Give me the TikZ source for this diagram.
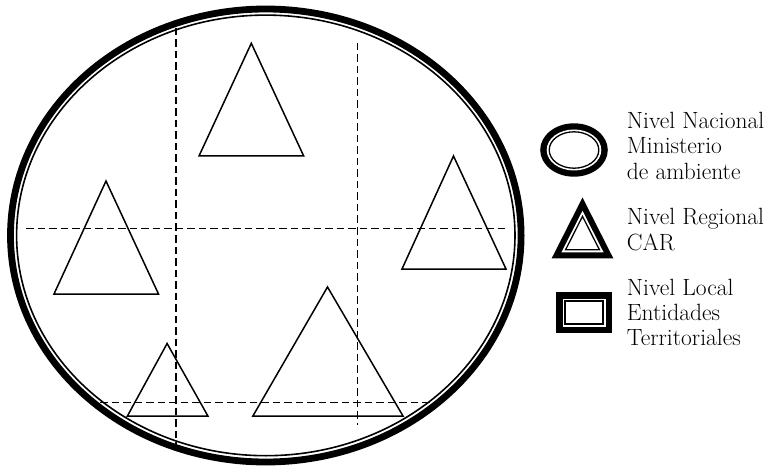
\documentclass[tikz,border=0pt]{standalone}
\begin{document}
\begin{tikzpicture}[x=1pt,y=-1pt,
  dline/.style={line width=1.6pt, dash pattern=on 7.5pt off 4pt},
  tri/.style={line width=1.5pt, line join=miter},
  lbl/.style={anchor=base west, inner sep=0pt, font=\fontsize{23.5}{25}\selectfont},
  thinline/.style={line width=1.3pt}]
\useasboundingbox (0,0) rectangle (769,468);
% big ellipse
\draw[line width=6.8pt] (265.8,235.5) ellipse [x radius=255.3pt, y radius=226.5pt];
\draw[line width=1.6pt] (265.8,235.4) ellipse [x radius=249.2pt, y radius=220.3pt];
% dashed grid
\coordinate (v1t) at (176,28);   \coordinate (v1b) at (176,447);
\coordinate (v2t) at (357.5,43); \coordinate (v2b) at (357.5,425);
\coordinate (h1l) at (26,228.5); \coordinate (h1r) at (505,228.5);
\coordinate (h2l) at (100,402.5);\coordinate (h2r) at (439,402.5);
\draw[dline] (v1t) -- (v1b);
\draw[dline] (v2t) -- (v2b);
\draw[dline] (h1l) -- (h1r);
\draw[dline] (h2l) -- (h2r);
% triangles
\draw[tri] (199,156) -- (303.7,156) -- (251.3,43.3) -- cycle;
\draw[tri] (54,294) -- (158.5,294) -- (106,181) -- cycle;
\draw[tri] (402,269) -- (506,269) -- (453.5,156) -- cycle;
\draw[tri] (127.4,416) -- (207.9,416) -- (167.1,343.5) -- cycle;
\draw[tri] (252.9,416) -- (403,416) -- (327.5,287) -- cycle;
% legend: ellipse
\fill (574,150) ellipse [x radius=33.8pt, y radius=26.7pt];
\fill[white] (574,150) ellipse [x radius=27.3pt, y radius=20.5pt];
\draw[thinline] (574,150) ellipse [x radius=24.8pt, y radius=18.2pt];
% legend: triangle
\fill (551.7,258.3) -- (613.3,258.3) -- (582.5,197.5) -- cycle;
\fill[white] (561.46,252.31) -- (603.54,252.31) -- (582.5,210.78) -- cycle;
\draw[thinline, line join=miter] (565.56,249.8) -- (599.44,249.8) -- (582.5,216.35) -- cycle;
% legend: rectangle
\fill (556,292) rectangle (612,333);
\fill[white] (562.5,298.5) rectangle (605.5,326.5);
\draw[thinline] (565,301) rectangle (603,324);
% legend texts
\node[lbl] (t1) at (626.7,128.3) {Nivel Nacional};
\node[lbl] (t2) at (626.7,154.0) {Ministerio};
\node[lbl] (t3) at (626.7,179.3) {de ambiente};
\node[lbl] (t4) at (626.7,225.0) {Nivel Regional};
\node[lbl] (t5) at (626.7,250.3) {CAR};
\node[lbl] (t6) at (626.7,295.0) {Nivel Local};
\node[lbl] (t7) at (626.7,320.0) {Entidades};
\node[lbl] (t8) at (626.7,345.0) {Territoriales};
\end{tikzpicture}
\end{document}
